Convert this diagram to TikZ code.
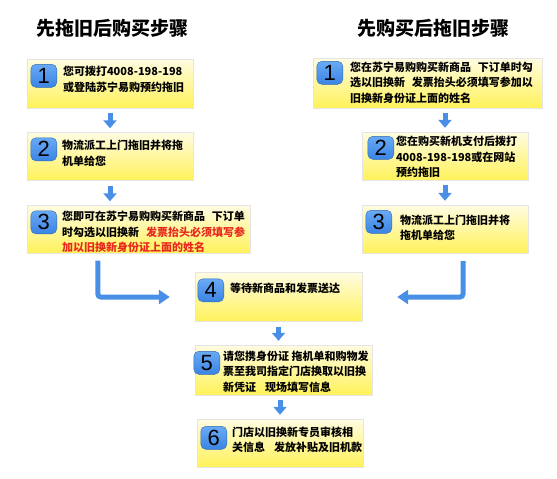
\documentclass[tikz,border=0pt]{standalone}
\usepackage{fontspec}
\setmainfont{Noto Sans CJK SC}
\newfontfamily\numfont{Liberation Sans}
\usepackage{xcolor}
\usepackage{tikz}
\usetikzlibrary{shapes.geometric, arrows.meta}
\usetikzlibrary{positioning}

\definecolor{boxtop}{HTML}{FFFCE2}
\definecolor{boxbot}{HTML}{FFF25A}
\definecolor{badgetop}{HTML}{6AAAF5}
\definecolor{badgebot}{HTML}{3A84E4}
\definecolor{arrowblue}{HTML}{4A8FE6}
\definecolor{warnred}{HTML}{E8281E}

\tikzstyle{stepbox} = [rectangle, 
minimum width=166pt, 
minimum height=48pt, 
draw=black!10, 
top color=boxtop, 
bottom color=boxbot]
\tikzstyle{badge} = [rectangle, 
rounded corners=5pt, 
minimum width=26pt, 
minimum height=23pt, 
inner sep=0pt, 
draw=badgebot!80!black, 
top color=badgetop, 
bottom color=badgebot, 
font=\numfont\fontsize{22}{22}\selectfont]
\tikzstyle{steptext} = [anchor=north west, 
inner sep=0pt, 
align=left, 
font=\fontsize{11}{15.5}\selectfont\bfseries]
\tikzstyle{title} = [font=\fontsize{19}{19}\selectfont\bfseries]
\tikzstyle{arrow} = [line width=5pt, draw=arrowblue, 
-{Triangle[width=13pt,length=8pt]}, 
shorten <=5pt, shorten >=4pt]
\tikzstyle{bentarrow} = [line width=5pt, draw=arrowblue, 
rounded corners=3pt, 
-{Triangle[width=14pt,length=11pt]}]

\begin{document}
\begin{tikzpicture}[x=1pt, y=-1pt, node distance=73pt]
        \useasboundingbox (0,0) rectangle (557,479);

        \node (ltitle) [title] at (112,28) {先拖旧后购买步骤};
        \node (rtitle) [title] at (433,28) {先购买后拖旧步骤};

        % left: old machine first
        \node (l1) [stepbox, minimum height=49pt] at (110,83.5) {};
        \node (l2) [stepbox, below of = l1] {};
        \node (l3) [stepbox, minimum width=223pt, below of = l2, xshift=28.5pt] {};

        % right: purchase first
        \node (r1) [stepbox, minimum width=229pt, minimum height=50pt] at (427.5,83) {};
        \node (r2) [stepbox, below of = r1, xshift=17.5pt] {};
        \node (r3) [stepbox, below of = r2] {};

        % common steps
        \node (c4) [stepbox, minimum width=167pt, minimum height=49pt] at (278.5,297) {};
        \node (c5) [stepbox, minimum width=177pt, minimum height=50pt, below of = c4, xshift=5pt] {};
        \node (c6) [stepbox, below of = c5, xshift=-3.5pt] {};

        \node (nl1) [badge] at ([xshift=17pt, yshift=-17pt]l1.north west) {1};
        \node (nl2) [badge] at ([xshift=17pt, yshift=-17pt]l2.north west) {2};
        \node (nl3) [badge] at ([xshift=17pt, yshift=-17pt]l3.north west) {3};
        \node (nr1) [badge] at ([xshift=17pt, yshift=-15pt]r1.north west) {1};
        \node (nr2) [badge] at ([xshift=19pt, yshift=-16pt]r2.north west) {2};
        \node (nr3) [badge] at ([xshift=17pt, yshift=-17pt]r3.north west) {3};
        \node (nc4) [badge] at ([xshift=16pt, yshift=-18pt]c4.north west) {4};
        \node (nc5) [badge] at ([xshift=12pt, yshift=-18pt]c5.north west) {5};
        \node (nc6) [badge] at ([xshift=17pt, yshift=-19pt]c6.north west) {6};

        \node (tl1) [steptext] at ([xshift=36pt, yshift=-7.5pt]l1.north west) 
        {您可拨打4008-198-198\\或登陆苏宁易购预约拖旧};
        \node (tl2) [steptext] at ([xshift=35pt, yshift=-7.5pt]l2.north west) 
        {物流派工上门拖旧并将拖\\机单给您};
        \node (tl3) [steptext] at ([xshift=35pt, yshift=-5.5pt]l3.north west) 
        {您即可在苏宁易购购买新商品\hspace{7pt}下订单\\时勾选以旧换新\hspace{7pt}{\color{warnred}发票抬头必须填写参}\\{\color{warnred}加以旧换新身份证上面的姓名}};
        \node (tr1) [steptext] at ([xshift=37pt, yshift=-3.5pt]r1.north west) 
        {您在苏宁易购购买新商品\hspace{7pt}下订单时勾\\选以旧换新\hspace{7pt}发票抬头必须填写参加以\\旧换新身份证上面的姓名};
        \node (tr2) [steptext] at ([xshift=34pt, yshift=-4.5pt]r2.north west) 
        {您在购买新机支付后拨打\\4008-198-198或在网站\\预约拖旧};
        \node (tr3) [steptext] at ([xshift=38pt, yshift=-9.5pt]r3.north west) 
        {物流派工上门拖旧并将\\拖机单给您};
        \node (tc4) [steptext] at ([xshift=35pt, yshift=-10.5pt]c4.north west) 
        {等待新商品和发票送达};
        \node (tc5) [steptext] at ([xshift=28pt, yshift=-5.5pt]c5.north west) 
        {请您携身份证 拖机单和购物发\\票至我司指定门店换取以旧换\\新凭证\hspace{9pt}现场填写信息};
        \node (tc6) [steptext] at ([xshift=35pt, yshift=-7.5pt]c6.north west) 
        {门店以旧换新专员审核相\\关信息\hspace{9pt}发放补贴及旧机款};

        \draw [arrow] (l1) -- (l2);
        \draw [arrow] (l2.south) -- (l2.south |- l3.north);
        \draw [arrow] (r1.south -| r2) -- (r2);
        \draw [arrow] (r2) -- (r3);
        \draw [arrow] (c4.south) -- (c4.south |- c5.north);
        \draw [arrow] (c6.north |- c5.south) -- (c6.north);

        \draw [bentarrow] ([xshift=71pt, yshift=-7pt]l3.south west) |- ([xshift=-25pt]c4.west);
        \draw [bentarrow] ([xshift=18pt, yshift=-8pt]r3.south) |- ([xshift=35pt]c4.east);

\end{tikzpicture}
\end{document}
